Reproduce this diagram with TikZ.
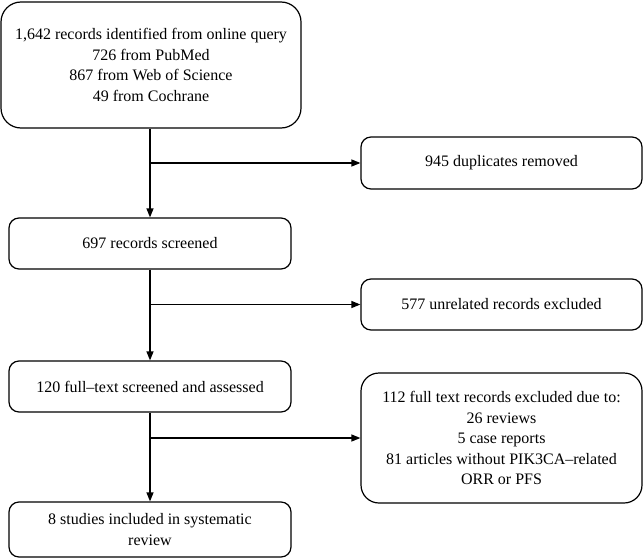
\documentclass[tikz,border=0pt]{standalone}
\usepackage{fontspec}
\setmainfont{Liberation Serif}
\usetikzlibrary{arrows.meta}
\begin{document}
\begin{tikzpicture}[x=1pt,y=1pt,
  box/.style={draw, line width=1.2pt, rounded corners=#1, align=center, inner sep=0pt,
    font=\fontsize{16}{20.5}\selectfont},
  box/.default=10pt,
  conn/.style={line width=1.2pt},
  arr/.style={conn, -{Triangle[length=9pt,width=7pt]}}]
\useasboundingbox (0,0) rectangle (644,-559);
\node[box=20pt, minimum width=300pt, minimum height=126pt] (b1) at (151,-65)
  {1,642 records identified from online query\\726 from PubMed\\867 from Web of Science\\49 from Cochrane};
\node[box, minimum width=281pt, minimum height=52pt] (dup) at (501.5,-163) {945 duplicates removed};
\node[box, minimum width=282pt, minimum height=51pt] (scr) at (150,-243.5) {697 records screened};
\node[box, minimum width=281pt, minimum height=51pt] (unrel) at (501.5,-304.5) {577 unrelated records excluded};
\node[box, minimum width=282pt, minimum height=51pt] (full) at (150,-386.5) {120 full--text screened and assessed};
\node[box=18pt, minimum width=281pt, minimum height=130pt] (excl) at (501.5,-438)
  {112 full text records excluded due to:\\26 reviews\\5 case reports\\81 articles without PIK3CA--related\\ORR or PFS};
\node[box, minimum width=282pt, minimum height=55pt] (incl) at (150,-529.5) {8 studies included in systematic\\review};
\coordinate (j1) at (scr.north |- dup.west);
\coordinate (j2) at (full.north |- unrel.west);
\coordinate (j3) at (incl.north |- excl.west);
\draw[arr] (b1.south -| scr.north) -- (scr.north);
\draw[arr] (j1) -- (dup.west);
\draw[arr] (scr.south) -- (full.north);
\draw[arr] (j2) -- (unrel.west);
\draw[arr] (full.south) -- (incl.north);
\draw[arr] (j3) -- (excl.west);
\end{tikzpicture}
\end{document}
